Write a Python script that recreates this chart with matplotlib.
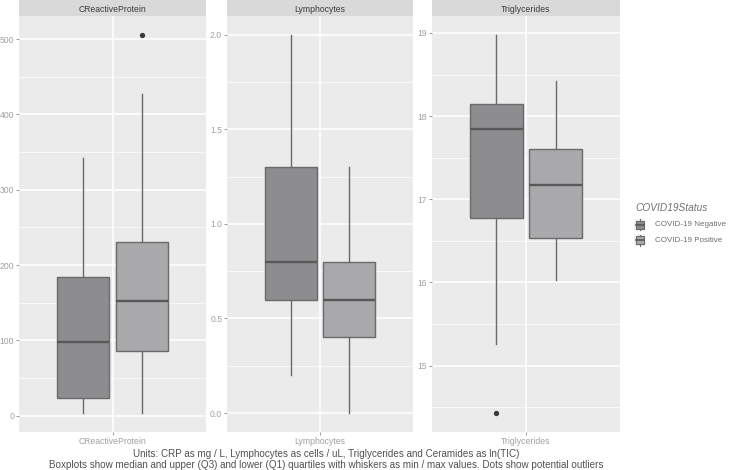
import matplotlib
matplotlib.use("Agg")
import matplotlib.pyplot as plt
from matplotlib.patches import Rectangle
from matplotlib.lines import Line2D

# ---- data ----
panels = ["CReactiveProtein", "Lymphocytes", "Triglycerides"]
groups = ["COVID-19 Negative", "COVID-19 Positive"]
# five-number summaries: min, q1, median, q3, max
crp_neg = [3.5, 23.5, 97.4, 184.6, 342.0]
crp_pos = [3.5, 85.9, 151.8, 230.6, 427.0]
lym_neg = [0.2, 0.6, 0.8, 1.3, 2.0]
lym_pos = [0.0, 0.4, 0.6, 0.8, 1.3]
tri_neg = [15.26, 16.78, 17.84, 18.14, 18.98]
tri_pos = [16.03, 16.53, 17.17, 17.61, 18.42]
crp_out_neg, crp_out_pos = [], [506.0]
lym_out_neg, lym_out_pos = [], []
tri_out_neg, tri_out_pos = [14.43], []
crp_ticks = [0, 100, 200, 300, 400, 500]
lym_ticks = [0.0, 0.5, 1.0, 1.5, 2.0]
tri_ticks = [15, 16, 17, 18, 19]
crp_ticklabels = ["0", "100", "200", "300", "400", "500"]
lym_ticklabels = ["0.0", "0.5", "1.0", "1.5", "2.0"]
tri_ticklabels = ["15", "16", "17", "18", "19"]
caption = ("Units: CRP as mg / L, Lymphocytes as cells / uL, Triglycerides and Ceramides as ln(TIC)\n"
           "Boxplots show median and upper (Q3) and lower (Q1) quartiles with whiskers as min / max values. "
           "Dots show potential outliers")
legend_title = "COVID19Status"

summaries = [(crp_neg, crp_pos), (lym_neg, lym_pos), (tri_neg, tri_pos)]
outliers = [(crp_out_neg, crp_out_pos), (lym_out_neg, lym_out_pos), (tri_out_neg, tri_out_pos)]
ticks = [crp_ticks, lym_ticks, tri_ticks]
ticklabels = [crp_ticklabels, lym_ticklabels, tri_ticklabels]

# ---- style ----
W, H = 731, 470
FONT = "Liberation Sans"
plt.rcParams["font.family"] = [FONT, "DejaVu Sans"]
fills = ["#8d8d90", "#a9a9ac"]
edge = "#6a6a6a"
panel_bg = "#ebebeb"
strip_bg = "#d9d9d9"

fig = plt.figure(figsize=(W / 100, H / 100), dpi=100)

lefts = [19, 227, 432]
widths = [187, 186, 188]
top_strip, top_panel, bottom = 0, 15.7, 432


def fx(px):
    return px / W


def fy(py):
    return 1 - py / H


for i, name in enumerate(panels):
    ax = fig.add_axes([fx(lefts[i]), fy(bottom), widths[i] / W, (bottom - top_panel) / H])
    ax.set_facecolor(panel_bg)
    for s in ax.spines.values():
        s.set_visible(False)
    neg, pos = summaries[i]
    o_neg, o_pos = outliers[i]
    stats = []
    for summ, outs, lab in [(neg, o_neg, groups[0]), (pos, o_pos, groups[1])]:
        stats.append(dict(whislo=summ[0], q1=summ[1], med=summ[2], q3=summ[3],
                          whishi=summ[4], fliers=outs, label=lab))
    bp = ax.bxp(stats, positions=[1 - 0.189, 1 + 0.189], widths=0.336,
                patch_artist=True, showcaps=False, manage_ticks=False,
                boxprops=dict(edgecolor=edge, linewidth=1.0),
                whiskerprops=dict(color=edge, linewidth=1.0),
                medianprops=dict(color="#585858", linewidth=1.7, solid_capstyle="butt"),
                flierprops=dict(marker="o", markersize=2.8, markerfacecolor="#3a3a3a",
                                markeredgecolor="#3a3a3a"),
                zorder=3)
    for b, c in zip(bp["boxes"], fills):
        b.set_facecolor(c)
    tk = ticks[i]
    ax.set_yticks(tk)
    ax.set_yticklabels(ticklabels[i])
    step = tk[1] - tk[0]
    minors = [t + step / 2 for t in [tk[0] - step] + tk]
    ax.set_yticks(minors, minor=True)
    ax.set_xticks([1])
    ax.set_xticklabels([name])
    # limits with ggplot-like 5% expansion (set after ticks so they are not widened)
    vals = list(neg) + list(pos) + list(o_neg) + list(o_pos)
    lo, hi = min(vals), max(vals)
    pad = (hi - lo) * 0.05
    ax.set_ylim(lo - pad, hi + pad)
    ax.set_xlim(0.4, 1.6)
    ax.grid(True, which="major", color="white", linewidth=1.1, zorder=0)
    ax.grid(True, which="minor", axis="y", color="white", linewidth=0.5, zorder=0)
    ax.set_axisbelow(True)
    ax.tick_params(axis="both", which="major", length=2.3, width=0.6, color="#8a8a8a",
                   labelsize=6.2, labelcolor="#a0a0a0", pad=1.2)
    ax.tick_params(axis="y", which="minor", length=0)
    # strip
    sax = fig.add_axes([fx(lefts[i]), fy(top_panel), widths[i] / W, (top_panel - top_strip) / H])
    sax.set_facecolor(strip_bg)
    sax.set_xticks([])
    sax.set_yticks([])
    for s in sax.spines.values():
        s.set_visible(False)
    sax.text(0.5, 0.42, name, ha="center", va="center", fontsize=6.2, color="#3c3c3c",
             transform=sax.transAxes)

# overlay for legend and caption
ov = fig.add_axes([0, 0, 1, 1])
ov.set_xlim(0, W)
ov.set_ylim(H, 0)
ov.axis("off")
ov.patch.set_alpha(0)

ov.text(635, 208, legend_title, fontsize=7.3, style="italic", color="#707070",
        ha="left", va="center")
key_y = [224.5, 240]
for ky, c, lab in zip(key_y, fills, groups):
    ov.add_patch(Rectangle((634.3, ky - 6), 10.6, 12, facecolor="#f2f2f2", edgecolor="none"))
    ov.add_line(Line2D([639.6, 639.6], [ky - 5.5, ky + 5.5], color=edge, linewidth=0.8))
    ov.add_patch(Rectangle((635.5, ky - 4), 8.2, 8, facecolor=c, edgecolor=edge, linewidth=0.8,
                           zorder=3))
    ov.add_line(Line2D([635.5, 643.7], [ky, ky], color="#585858", linewidth=1.2, zorder=4))
    ov.text(655, ky + 0.5, lab, fontsize=5.8, color="#6e6e6e", ha="left", va="center")

ov.text(326, 459.5, caption, fontsize=7.1, color="#505050", ha="center", va="center",
        linespacing=1.15)

fig.savefig("out.png", dpi=100)
